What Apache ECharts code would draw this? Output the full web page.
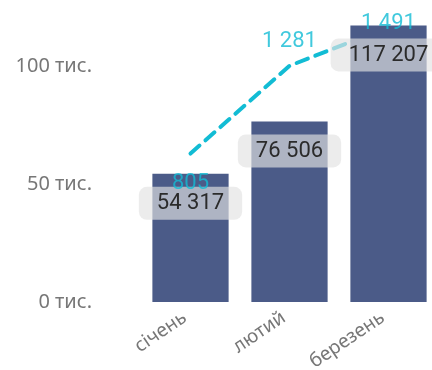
<!DOCTYPE html>
<html><head><meta charset="utf-8">
<script src="https://cdn.jsdelivr.net/npm/echarts@6/dist/echarts.min.js"></script>
<style>html,body{margin:0;padding:0;background:#fff}#c{width:432px;height:370px}</style>
</head><body><div id="c"></div>
<script>
const categories = ['січень', 'лютий', 'березень'];
const barValues = [54317, 76506, 117207];
const lineValues = [805, 1281, 1491];
const lineLabelPos = ['bottom', 'top', 'top'];
const lineLabelDist = [19, 13, -7];

function fmtNum(v){ return String(v).replace(/\B(?=(\d{3})+(?!\d))/g, ' '); }

const chart = echarts.init(document.getElementById('c'), null, {renderer:'canvas'});
chart.setOption({
  animation:false,
  grid:{left:141, width:297, top:7, bottom:68, containLabel:false, outerBoundsMode:'none'},
  xAxis:{type:'category', data:categories,
    axisLine:{show:false}, axisTick:{show:false},
    axisLabel:{rotate:34, color:'#777', fontFamily:'Noto Sans', fontSize:19, margin:10, interval:0,
      padding:[0,7,0,0]}},
  yAxis:[
    {type:'value', min:0, max:125000, interval:50000,
     splitLine:{show:false}, axisLine:{show:false}, axisTick:{show:false},
     axisLabel:{showMaxLabel:false, color:'#777', fontFamily:'Noto Sans', fontSize:20, margin:49,
       formatter:v=> (v/1000) + ' тис.'}},
    {type:'value', min:0, max:1600, show:false, splitLine:{show:false}}
  ],
  series:[
    {type:'bar', data:barValues, barCategoryGap:'23%', itemStyle:{color:'#4B5B88'},
     label:{show:true, position:'insideTop', distance:13, color:'#2b2b2b',
       fontFamily:'Roboto', fontSize:22, padding:[6,18,5,18], borderRadius:8,
       backgroundColor:'rgba(226,226,226,0.66)', formatter:p=>fmtNum(p.value)}, z:2},
    {type:'line', yAxisIndex:1, showSymbol:false, symbol:'none',
     data:lineValues,
     lineStyle:{color:'#12BCD4', width:4, type:[12,8], cap:'round'},
     itemStyle:{color:'#12BCD4'}, z:1},
    {type:'scatter', yAxisIndex:1, symbolSize:0, silent:true,
     data:lineValues.map((v,i)=>({value:v, label:{position:lineLabelPos[i], distance:lineLabelDist[i]}})),
     itemStyle:{color:'#12BCD4'},
     label:{show:true, color:'#12BCD4', fontFamily:'Roboto', fontSize:22, formatter:p=>fmtNum(p.value)}, z:3}
  ]
});
</script></body></html>
